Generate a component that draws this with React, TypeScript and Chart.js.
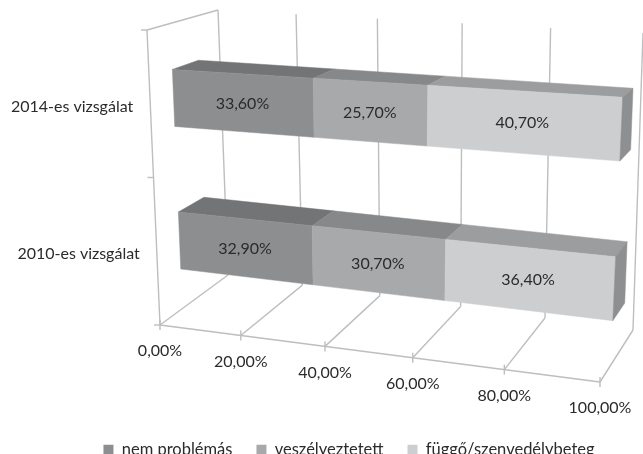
import React, { useEffect, useRef } from "react";
import { Chart, registerables } from "chart.js";

Chart.register(...registerables);

const categories = ["2014-es vizsgálat", "2010-es vizsgálat"];
const nemProblemas = [33.6, 32.9];
const veszelyeztetett = [25.7, 30.7];
const fuggo = [40.7, 36.4];
const seriesNames = ["nem problémás", "veszélyeztetett", "függő/szenvedélybeteg"];

const frontColors = ["#8d8e90", "#a8a9ab", "#cdced0"];
const topColors = ["#737476", "#87888a", "#9c9d9f"];
const sideColor = "#8e8f91";
const gridColor = "#bdbec0";
const textColor = "#2b2b2b";
const fontFamily = "Lato";

type P = [number, number];
// Camera of the oblique view: where the eight corners of the plot box land.
const corners: Record<string, P> = {
  c000: [160, 325], c100: [600, 382], c010: [147, 30], c110: [616, 52],
  c001: [228, 275], c101: [633, 330], c011: [218, 10], c111: [643, 33],
};
const barFrontDepth = 0.33;
const barBackDepth = 0.7;
const barLift = -0.0115;

const lerp = (a: number, b: number, t: number) => a + (b - a) * t;
const warp = (u: number) => (0.9 * u) / (1 - 0.1 * u);

function project(u: number, v: number, d: number): P {
  const t = warp(u);
  const out: number[] = [0, 0];
  for (const k of [0, 1]) {
    const f0 = lerp(corners.c000[k], corners.c100[k], t);
    const f1 = lerp(corners.c010[k], corners.c110[k], t);
    const b0 = lerp(corners.c001[k], corners.c101[k], t);
    const b1 = lerp(corners.c011[k], corners.c111[k], t);
    out[k] = lerp(lerp(f0, f1, v), lerp(b0, b1, v), d);
  }
  return out as P;
}

const pct = (n: number) => n.toFixed(2).replace(".", ",") + "%";

function poly(ctx: CanvasRenderingContext2D, pts: P[], color: string) {
  ctx.beginPath();
  pts.forEach((p, i) => (i ? ctx.lineTo(p[0], p[1]) : ctx.moveTo(p[0], p[1])));
  ctx.closePath();
  ctx.fillStyle = color;
  ctx.strokeStyle = color;
  ctx.lineWidth = 0.5;
  ctx.fill();
  ctx.stroke();
}

function seg(ctx: CanvasRenderingContext2D, a: P, b: P, color = gridColor, w = 1.4) {
  ctx.beginPath();
  ctx.moveTo(a[0], a[1]);
  ctx.lineTo(b[0], b[1]);
  ctx.strokeStyle = color;
  ctx.lineWidth = w;
  ctx.stroke();
}

const perspectivePlugin = {
  id: "perspective",
  afterLayout(chart: any) {
    const lg = chart.legend;
    if (lg) {
      lg.top = 417.5;
      lg.bottom = 482.5;
      lg.left += 27.5;
      lg.right += 27.5;
    }
  },
  beforeDatasetsDraw(chart: any) {
    const ctx: CanvasRenderingContext2D = chart.ctx;
    const xs = chart.scales.x;
    const ys = chart.scales.y;
    const U = (px: number) => (px - xs.left) / xs.width;
    const V = (py: number) => (ys.bottom - py) / ys.height;

    ctx.save();
    // Walls and floor
    seg(ctx, project(0, 0, 0), project(0, 1, 0));
    seg(ctx, project(0, 1, 0), project(0, 1, 1));
    seg(ctx, project(0, 0, 0), project(1, 0, 0));
    for (const tick of xs.ticks) {
      const u = U(xs.getPixelForValue(tick.value));
      const f = project(u, 0, 0);
      seg(ctx, f, project(u, 0, 1));
      seg(ctx, project(u, 0, 1), project(u, 1, 1));
      seg(ctx, [f[0], f[1] - 5], [f[0], f[1] + 5]);
    }
    for (const v of [0, 0.5, 1]) {
      const p = project(0, v, 0);
      seg(ctx, [p[0] - 6, p[1]], p);
    }

    // Bars
    const metas = chart.getSortedVisibleDatasetMetas();
    metas.forEach((meta: any, s: number) => {
      meta.data.forEach((el: any) => {
        const { x, y, base, height } = el.getProps(["x", "y", "base", "height"], true);
        const u0 = U(base);
        const u1 = U(x);
        const v0 = V(y + height / 2) + barLift;
        const v1 = V(y - height / 2) + barLift;
        const d0 = barFrontDepth;
        const d1 = barBackDepth;
        poly(ctx, [project(u0, v1, d0), project(u1, v1, d0), project(u1, v1, d1), project(u0, v1, d1)], topColors[s]);
        poly(ctx, [project(u0, v0, d0), project(u1, v0, d0), project(u1, v1, d0), project(u0, v1, d0)], frontColors[s]);
        if (s === metas.length - 1) {
          poly(ctx, [project(u1, v0, d0), project(u1, v0, d1), project(u1, v1, d1), project(u1, v1, d0)], sideColor);
        }
      });
    });

    // Text
    ctx.fillStyle = textColor;
    ctx.font = `16px ${fontFamily}`;
    ctx.textBaseline = "middle";
    ctx.textAlign = "center";
    metas.forEach((meta: any, s: number) => {
      meta.data.forEach((el: any, i: number) => {
        const { x, y, base } = el.getProps(["x", "y", "base"], true);
        const p = project(U((x + base) / 2), V(y) + barLift, barFrontDepth);
        ctx.fillText(pct(chart.data.datasets[s].data[i]), p[0], p[1] + 1);
      });
    });
    for (const tick of xs.ticks) {
      const f = project(U(xs.getPixelForValue(tick.value)), 0, 0);
      ctx.fillText(tick.label, f[0], f[1] + 26);
    }
    ctx.textAlign = "right";
    chart.data.labels.forEach((label: string, i: number) => {
      const p = project(0, V(ys.getPixelForValue(i)), 0);
      ctx.fillText(label, p[0] - 17, p[1] + 3);
    });
    ctx.restore();
    return false;
  },
};

export default function App() {
  const ref = useRef<HTMLCanvasElement>(null);
  useEffect(() => {
    const chart = new Chart(ref.current!, {
      type: "bar",
      data: {
        labels: categories,
        datasets: [nemProblemas, veszelyeztetett, fuggo].map((data, i) => ({
          label: seriesNames[i],
          data,
          backgroundColor: frontColors[i],
          categoryPercentage: 0.8,
          barPercentage: 0.5,
        })),
      },
      options: {
        indexAxis: "y",
        responsive: false,
        animation: false,
        layout: { padding: 0 },
        scales: {
          x: {
            display: false,
            stacked: true,
            min: 0,
            max: 100,
            ticks: { stepSize: 20, callback: (v: any) => pct(Number(v)) },
          },
          y: { display: false, stacked: true },
        },
        plugins: {
          tooltip: { enabled: false },
          legend: {
            position: "bottom",
            labels: {
              boxWidth: 10,
              boxHeight: 10,
              padding: 24,
              color: textColor,
              font: { family: fontFamily, size: 16.5 },
            },
          },
        },
      },
      plugins: [perspectivePlugin],
    } as any);
    return () => chart.destroy();
  }, []);
  return (
    <div style={{ position: "absolute", left: 0, top: 0, width: 643, height: 454, background: "#fff" }}>
      <canvas ref={ref} width={643} height={454} style={{ display: "block" }} />
    </div>
  );
}
